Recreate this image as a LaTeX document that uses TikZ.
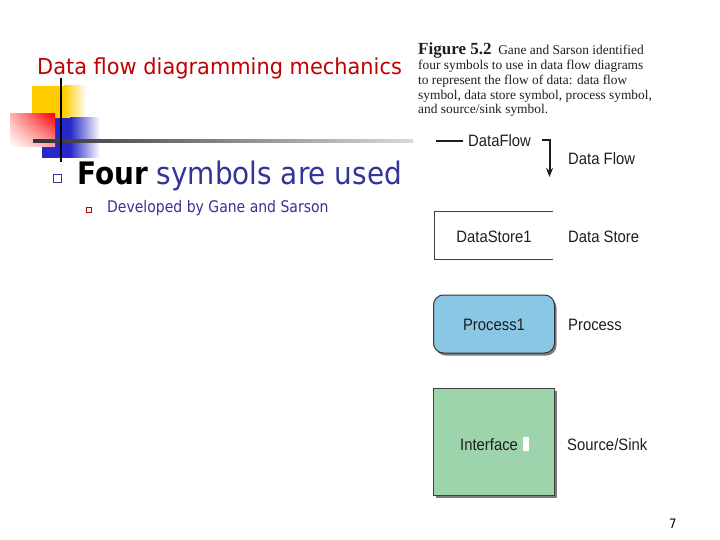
\documentclass[tikz,border=0pt]{standalone}
\usepackage{fontspec}
\setmainfont{Liberation Serif}
\newfontfamily\tah[FakeStretch=0.9]{DejaVu Sans}
\newfontfamily\tahw[FakeStretch=0.95]{DejaVu Sans}
\newfontfamily\tahn[FakeStretch=0.875]{DejaVu Sans}
\newfontfamily\narrow[FakeStretch=0.9]{Liberation Sans}
\usetikzlibrary{arrows.meta,shadows,shadings}
\definecolor{titlered}{RGB}{192,0,0}
\definecolor{slideblue}{RGB}{51,51,153}
\definecolor{procblue}{RGB}{137,199,228}
\definecolor{ifgreen}{RGB}{158,212,172}
\definecolor{figtext}{RGB}{30,30,30}
\definecolor{decoyellow}{RGB}{255,204,0}
\definecolor{decoblue}{RGB}{40,40,200}
\tikzset{
  figlabel/.style={anchor=base west, inner sep=0, text=figtext, font=\narrow\fontsize{16.5}{18}\selectfont},
  symtext/.style={anchor=base, inner sep=0, text=figtext, font=\narrow\fontsize{16.5}{18}\selectfont},
  symshadow/.style={drop shadow={shadow xshift=2pt, shadow yshift=-2.5pt, fill=black!60, opacity=0.85}},
}
\begin{document}
\begin{tikzpicture}[x=1pt,y=-1pt]
\useasboundingbox (0,0) rectangle (720,540);
% decoration
\shade[left color=decoyellow, right color=white] (64,86) rectangle (86,118);
\fill[decoyellow] (32,86) rectangle (65,118);
\shade[left color=decoblue, right color=white] (70,118) rectangle (100,158);
\fill[decoblue] (42,118) rectangle (71,158);
\shade[upper right=red, lower right=red!35, upper left=red!30, lower left=white] (10,114) rectangle (55,147);
\shade[left color=black!80, right color=black!15] (33,139.5) rectangle (413,142.5);
\draw[line width=2.5pt] (61,78) -- (61,162);
% title
\node[anchor=base west, inner sep=0, text=titlered, font=\tahw\fontsize{22}{26}\selectfont] (title) at (37,75) {Data flow diagramming mechanics};
% bullets
\node[draw=slideblue, line width=0.8pt, minimum size=8pt, inner sep=0] (b1) at (57.5,178.5) {};
\node[anchor=base west, inner sep=0, font=\tah\fontsize{31}{34}\selectfont] (four) at (77,185) {\textbf{Four} \textcolor{slideblue}{symbols are used}};
\node[draw=titlered, fill=white, line width=0.8pt, minimum size=5pt, inner sep=0] (b2) at (88.5,209.5) {};
\node[anchor=base west, inner sep=0, text=slideblue, font=\tahn\fontsize{16}{18}\selectfont] (dev) at (107,212) {Developed by Gane and Sarson};
% caption
\node[anchor=north west, inner sep=0, align=left, text=figtext, font=\fontsize{13.4}{14.7}\selectfont] (cap) at (418,43)
 {{\fontsize{17}{14.7}\selectfont\bfseries Figure 5.2}\ \ Gane and Sarson identified\\
  four symbols to use in data flow diagrams\\
  to represent the flow of data: data flow\\
  symbol, data store symbol, process symbol,\\
  and source/sink symbol.};
% data flow
\coordinate (dfa) at (436,141);
\coordinate (dfb) at (463,141);
\draw[line width=2.5pt, figtext] (dfa) -- (dfb);
\node[anchor=base west, inner sep=0, text=figtext, font=\narrow\fontsize{16.5}{18}\selectfont] (dfl) at (468,147) {DataFlow};
\coordinate (ar0) at (542,140);
\coordinate (ar1) at (549.5,140);
\coordinate (ar2) at (549.5,177);
\draw[line width=2pt, figtext, -{Stealth[length=9pt,width=7pt]}] (ar0) -- (ar1) -- (ar2);
\node[figlabel] (dfname) at (568,165) {Data Flow};
% data store
\coordinate (ds1) at (553,212);
\coordinate (ds2) at (434,212);
\coordinate (ds3) at (434,259);
\coordinate (ds4) at (553,259);
\draw[line width=1pt, black!75] (ds1) -- (ds2) -- (ds3) -- (ds4);
\node[symtext] (dst) at (494,242) {DataStore1};
\node[figlabel] (dsname) at (568,242) {Data Store};
% process
\node[draw=black!80, line width=1pt, fill=procblue, rounded corners=10pt, minimum width=121pt, minimum height=58pt, inner sep=0, symshadow] (proc) at (494,324) {};
\node[symtext] (proct) at (494,330) {Process1};
\node[figlabel] (procname) at (568,330) {Process};
% source/sink
\node[draw=black!75, line width=1pt, fill=ifgreen, minimum width=121pt, minimum height=107pt, inner sep=0, symshadow] (iface) at (494,441.5) {};
\node[anchor=base west, inner sep=0, text=figtext, font=\narrow\fontsize{16.5}{18}\selectfont] (ift) at (460,450) {Interface};
\fill[white] (523,437) rectangle (529,451);
\node[figlabel] (ifname) at (567,450) {Source/Sink};
% page number
\node[anchor=base west, inner sep=0, font=\tah\fontsize{13}{15}\selectfont] (pg) at (669,528) {7};
\end{tikzpicture}
\end{document}
